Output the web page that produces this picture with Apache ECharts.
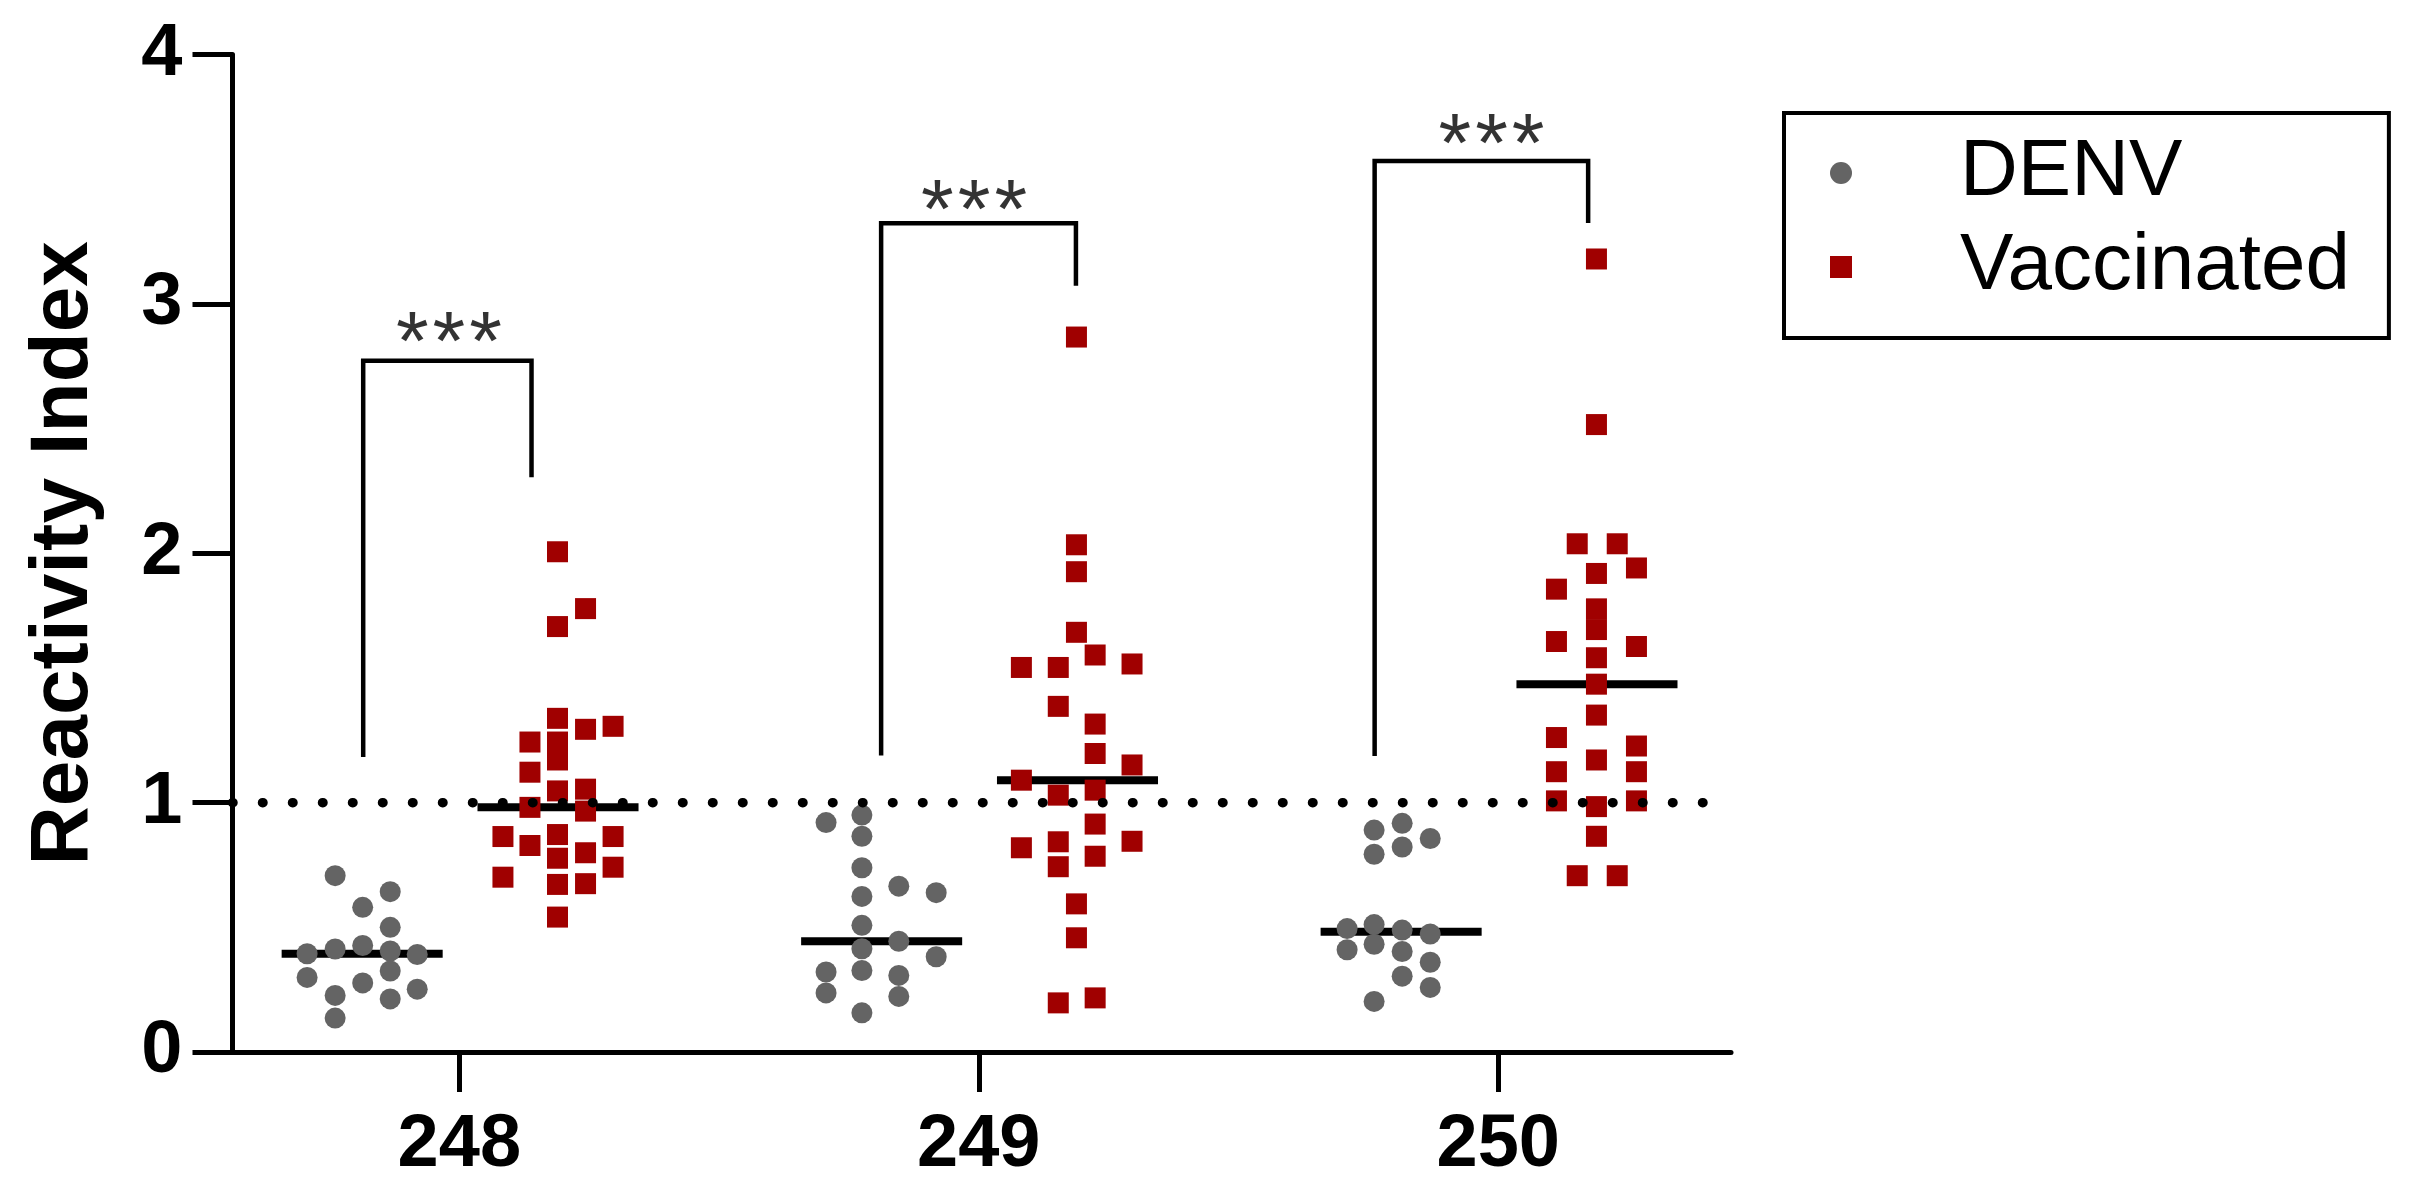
<!DOCTYPE html>
<html>
<head>
<meta charset="utf-8">
<script src="https://cdn.jsdelivr.net/npm/echarts@6/dist/echarts.min.js"></script>
<style>html,body{margin:0;padding:0;background:#fff;}#c{width:2416px;height:1202px;}</style>
</head>
<body>
<div id="c"></div>
<script>
// ---- data ----
const categories = ['248', '249', '250'];
const seriesNames = ['DENV', 'Vaccinated'];
const yTicks = [0, 1, 2, 3, 4];
// each point: [horizontal jitter offset from the category (category units), Reactivity Index]
const denv248 = [[-0.239,0.707],[-0.133,0.643],[-0.186,0.580],[-0.133,0.500],[-0.293,0.394],[-0.239,0.413],[-0.186,0.427],[-0.133,0.405],[-0.081,0.391],[-0.293,0.299],[-0.186,0.277],[-0.133,0.325],[-0.081,0.252],[-0.239,0.227],[-0.133,0.213],[-0.239,0.136]];
const vacc248 = [[0.189,2.006],[0.243,1.778],[0.189,1.706],[0.189,1.338],[0.243,1.294],[0.296,1.306],[0.136,1.243],[0.189,1.243],[0.189,1.171],[0.136,1.122],[0.189,1.047],[0.243,1.054],[0.136,0.981],[0.243,0.966],[0.084,0.864],[0.189,0.872],[0.296,0.864],[0.136,0.828],[0.243,0.799],[0.189,0.777],[0.296,0.741],[0.084,0.701],[0.189,0.672],[0.243,0.675],[0.189,0.541]];
const denv249 = [[-0.294,0.920],[-0.225,0.950],[-0.225,0.865],[-0.225,0.739],[-0.154,0.665],[-0.082,0.639],[-0.225,0.624],[-0.225,0.508],[-0.154,0.444],[-0.225,0.414],[-0.082,0.382],[-0.294,0.321],[-0.225,0.327],[-0.154,0.307],[-0.294,0.237],[-0.154,0.223],[-0.225,0.157]];
const vacc249 = [[0.188,2.867],[0.188,2.034],[0.188,1.926],[0.188,1.683],[0.224,1.592],[0.082,1.542],[0.153,1.542],[0.295,1.556],[0.153,1.386],[0.224,1.315],[0.224,1.197],[0.295,1.151],[0.082,1.090],[0.153,1.030],[0.224,1.050],[0.224,0.914],[0.082,0.819],[0.153,0.843],[0.295,0.845],[0.224,0.785],[0.153,0.743],[0.188,0.594],[0.188,0.458],[0.153,0.197],[0.224,0.217]];
const denv250 = [[-0.239,0.890],[-0.185,0.917],[-0.131,0.856],[-0.239,0.793],[-0.185,0.822],[-0.291,0.495],[-0.239,0.511],[-0.185,0.489],[-0.131,0.473],[-0.291,0.410],[-0.239,0.432],[-0.185,0.403],[-0.131,0.360],[-0.185,0.304],[-0.131,0.259],[-0.239,0.203]];
const vacc250 = [[0.189,3.180],[0.189,2.516],[0.152,2.038],[0.229,2.038],[0.266,1.941],[0.189,1.919],[0.112,1.856],[0.189,1.777],[0.189,1.694],[0.112,1.646],[0.266,1.626],[0.189,1.581],[0.189,1.475],[0.189,1.351],[0.112,1.261],[0.266,1.227],[0.189,1.171],[0.112,1.124],[0.266,1.124],[0.112,1.007],[0.266,1.007],[0.189,0.984],[0.189,0.865],[0.152,0.707],[0.229,0.707]];
const denvMedian = [0.394, 0.444, 0.482];
const vaccMedian = [0.981, 1.090, 1.475];
const threshold = 1;
// significance brackets (category-unit offsets and values)
const bracketLeftX = [-0.185, -0.188, -0.238];
const bracketRightX = [0.139, 0.187, 0.173];
const bracketTop = [2.772, 3.323, 3.573];
const bracketLeftBottom = [1.183, 1.189, 1.187];
const bracketRightBottom = [2.305, 3.073, 3.324];
const starX = [-0.020, -0.009, -0.013];
const starY = [2.902, 3.433, 3.699];
const signif = ['***', '***', '***'];

// ---- build chart ----
const denvGroups = [denv248, denv249, denv250];
const vaccGroups = [vacc248, vacc249, vacc250];
const X_MIN = -0.4366, X_MAX = 2.448;
const GRAY = '#646464', RED = '#a00000';
const FONT = "'Liberation Sans', Arial, sans-serif";
const DENV_CENTER = -0.187, VACC_CENTER = 0.19, MED_HALF = 0.155;

const toXY = (groups) => groups.flatMap((g, ci) => g.map(([o, v]) => [ci + o, v]));

const series = [];
series.push({
  name: 'DENV', type: 'scatter', symbol: 'circle', symbolSize: 21,
  itemStyle: { color: GRAY, opacity: 1 }, z: 3, data: toXY(denvGroups), silent: true
});
series.push({
  name: 'Vaccinated', type: 'scatter', symbol: 'rect', symbolSize: 21,
  itemStyle: { color: RED, opacity: 1 }, z: 3, data: toXY(vaccGroups), silent: true
});
categories.forEach((c, ci) => {
  [[DENV_CENTER, denvMedian[ci]], [VACC_CENTER, vaccMedian[ci]]].forEach(([cx, m]) => {
    series.push({
      type: 'line', symbol: 'none', z: 2, silent: true,
      lineStyle: { color: '#000', width: 8, cap: 'butt' },
      data: [[ci + cx - MED_HALF, m], [ci + cx + MED_HALF, m]]
    });
  });
  series.push({
    type: 'line', symbol: 'none', z: 4, silent: true,
    lineStyle: { color: '#000', width: 4.5, join: 'miter', cap: 'butt' },
    data: [[ci + bracketLeftX[ci], bracketLeftBottom[ci]], [ci + bracketLeftX[ci], bracketTop[ci]],
           [ci + bracketRightX[ci], bracketTop[ci]], [ci + bracketRightX[ci], bracketRightBottom[ci]]]
  });
});
series.push({
  type: 'scatter', symbolSize: 0, z: 5, silent: true,
  itemStyle: { color: '#000' },
  data: categories.map((c, ci) => ({
    value: [ci + starX[ci], starY[ci]],
    label: { formatter: signif[ci].split('').map(ch => '{s|' + ch + '}').join('') }
  })),
  label: {
    show: true, position: 'inside', color: '#000', textBorderWidth: 0,
    offset: [0, 19], align: 'center', verticalAlign: 'middle',
    rich: { s: { fontFamily: FONT, fontSize: 84, lineHeight: 84, color: '#000', padding: [0, 2, 0, 2] } }
  }
});
series.push({
  type: 'line', symbol: 'none', z: 6, silent: true,
  lineStyle: { color: '#000', width: 9.5, type: [0.5, 29.5], cap: 'round' },
  data: [[X_MIN, threshold], [X_MAX, threshold]]
});

const chart = echarts.init(document.getElementById('c'), null, { renderer: 'canvas' });
chart.setOption({
  animation: false,
  backgroundColor: '#fff',
  grid: { left: 232.5, right: 685, top: 54.5, bottom: 150, containLabel: false },
  legend: {
    data: [{ name: 'DENV', icon: 'circle' }, { name: 'Vaccinated', icon: 'rect' }],
    orient: 'vertical', left: 1784, top: 113,
    itemWidth: 22, itemHeight: 22, itemGap: 14,
    padding: [20, 39, 31, 46],
    borderColor: '#000', borderWidth: 4, borderRadius: 0,
    textStyle: { fontFamily: FONT, fontSize: 80, lineHeight: 80, color: '#000', padding: [0, 0, 0, 103] },
    selectedMode: false
  },
  xAxis: {
    type: 'value', min: X_MIN, max: X_MAX,
    splitLine: { show: false },
    axisLine: { show: true, onZero: false, lineStyle: { color: '#000', width: 5 } },
    axisTick: { show: true, inside: false, length: 40, customValues: categories.map((c, i) => i), lineStyle: { color: '#000', width: 5 } },
    axisLabel: { show: true, customValues: categories.map((c, i) => i), formatter: (v) => categories[Math.round(v)],
                 margin: 57, fontFamily: FONT, fontSize: 74, lineHeight: 74, fontWeight: 'bold', color: '#000' }
  },
  yAxis: {
    type: 'value', min: yTicks[0], max: yTicks[yTicks.length - 1], interval: 1,
    name: 'Reactivity Index', nameLocation: 'middle', nameGap: 127, nameRotate: 90,
    nameTextStyle: { fontFamily: FONT, fontSize: 82, lineHeight: 82, fontWeight: 'bold', color: '#000' },
    splitLine: { show: false },
    axisLine: { show: true, onZero: false, lineStyle: { color: '#000', width: 5 } },
    axisTick: { show: true, inside: false, length: 40, lineStyle: { color: '#000', width: 5 } },
    axisLabel: { margin: 50, fontFamily: FONT, fontSize: 74, lineHeight: 74, fontWeight: 'bold', color: '#000' }
  },
  series: series
});
</script>
</body>
</html>
